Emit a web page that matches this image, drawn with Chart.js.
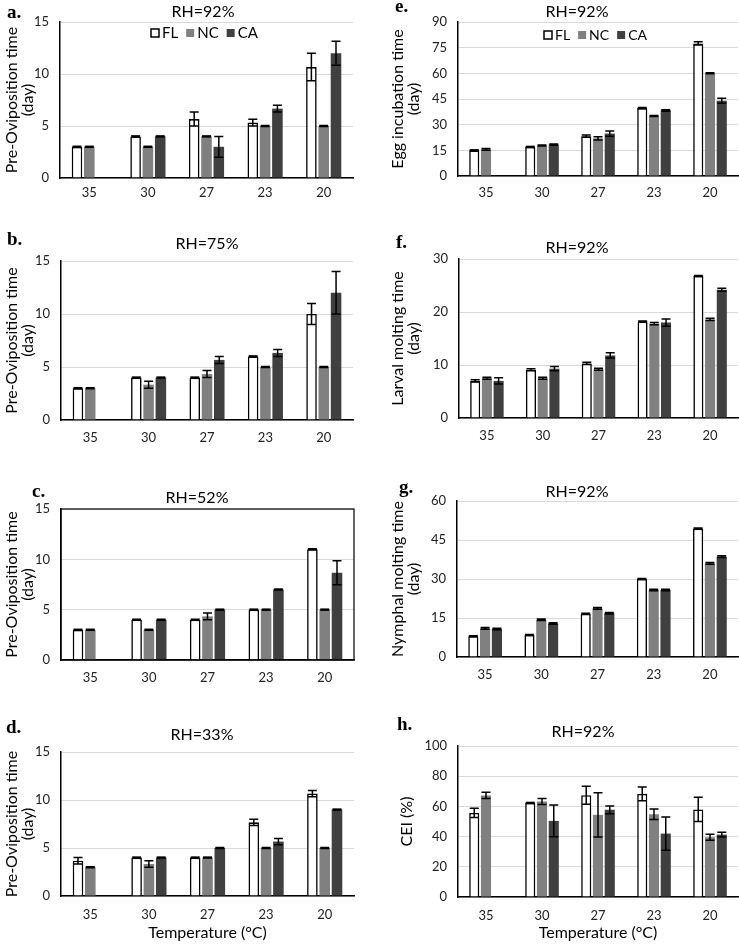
<!DOCTYPE html>
<html>
<head>
<meta charset="utf-8">
<script src="https://cdn.jsdelivr.net/npm/chart.js@4/dist/chart.umd.min.js"></script>
<style>
  body { margin: 0; background: #fff; }
  #wrap { position: relative; width: 739px; height: 944px; overflow: hidden; }
  #wrap canvas { position: absolute; }
</style>
</head>
<body>
<div id="wrap"></div>
<script>
// temperature categories (°C)
const temps = ['35', '30', '27', '23', '20'];
const seriesNames = ['FL', 'NC', 'CA'];

// a. pre-oviposition, RH=92%
const aFL = [3, 4, 5.67, 5.33, 10.67];
const aFLerr = [0, 0, 0.67, 0.33, 1.33];
const aNC = [3, 3, 4, 5, 5];
const aNCerr = [0, 0, 0, 0, 0];
const aCA = [null, 4, 3, 6.67, 12];
const aCAerr = [null, 0, 1, 0.33, 1.15];

// b. pre-oviposition, RH=75%
const bFL = [3, 4, 4, 6, 10];
const bFLerr = [0, 0, 0, 0, 1];
const bNC = [3, 3.33, 4.33, 5, 5];
const bNCerr = [0, 0.33, 0.33, 0, 0];
const bCA = [null, 4, 5.67, 6.33, 12];
const bCAerr = [null, 0, 0.33, 0.33, 2];

// c. pre-oviposition, RH=52%
const cFL = [3, 4, 4, 5, 11];
const cFLerr = [0, 0, 0, 0, 0];
const cNC = [3, 3, 4.33, 5, 5];
const cNCerr = [0, 0, 0.33, 0, 0];
const cCA = [null, 4, 5, 7, 8.67];
const cCAerr = [null, 0, 0, 0, 1.2];

// d. pre-oviposition, RH=33%
const dFL = [3.67, 4, 4, 7.67, 10.67];
const dFLerr = [0.33, 0, 0, 0.33, 0.33];
const dNC = [3, 3.33, 4, 5, 5];
const dNCerr = [0, 0.33, 0, 0, 0];
const dCA = [null, 4, 5, 5.67, 9];
const dCAerr = [null, 0, 0, 0.33, 0];

// e. egg incubation
const eFL = [15, 17, 23.3, 39.7, 77.5];
const eFLerr = [0, 0, 0.6, 0.3, 1];
const eNC = [15.5, 17.8, 22, 35, 60];
const eNCerr = [0.5, 0.3, 1, 0.3, 0.3];
const eCA = [null, 18.3, 24.8, 38.3, 44];
const eCAerr = [null, 0.4, 1.5, 0.4, 1.5];

// f. larval molting
const fFL = [7, 9.1, 10.3, 18.2, 26.8];
const fFLerr = [0.2, 0.2, 0.2, 0.1, 0.1];
const fNC = [7.5, 7.5, 9.2, 17.8, 18.6];
const fNCerr = [0.2, 0.2, 0.2, 0.2, 0.2];
const fCA = [7, 9.3, 11.8, 18, 24.2];
const fCAerr = [0.6, 0.4, 0.5, 0.7, 0.3];

// g. nymphal molting
const gFL = [8, 8.5, 16.6, 30, 49.4];
const gFLerr = [0.2, 0.2, 0.2, 0.2, 0.2];
const gNC = [11, 14.3, 18.7, 25.8, 36];
const gNCerr = [0.3, 0.3, 0.3, 0.3, 0.3];
const gCA = [10.8, 12.9, 16.8, 25.8, 38.6];
const gCAerr = [0.3, 0.3, 0.3, 0.3, 0.3];

// h. CEI
const hFL = [55.7, 62.3, 67.4, 68.3, 58];
const hFLerr = [3, 0, 6, 4.5, 8];
const hNC = [67.3, 63.2, 54.4, 54.8, 39.6];
const hNCerr = [2, 2, 14.7, 3.5, 2];
const hCA = [null, 50.4, 57.7, 42, 41.3];
const hCAerr = [null, 10.5, 2.5, 11, 1.5];

const FONT = 'Lato, "Open Sans", sans-serif';
const colors = { FL: '#ffffff', NC: '#808080', CA: '#404040' };

// draws error bars, panel letter, title, legend
const extras = {
  id: 'extras',
  afterDatasetsDraw(chart) {
    const ctx = chart.ctx;
    const y = chart.scales.y;
    ctx.save();
    ctx.strokeStyle = '#000';
    chart.data.datasets.forEach((ds, i) => {
      chart.getDatasetMeta(i).data.forEach((bar, j) => {
        const v = ds.data[j], e = ds.errors[j];
        if (v == null || e == null) return;
        const x = bar.x;
        ctx.beginPath();
        if (e === 0) {
          ctx.lineWidth = 2.5;
          const py = y.getPixelForValue(v);
          ctx.moveTo(x - 4.5, py); ctx.lineTo(x + 4.5, py);
        } else {
          ctx.lineWidth = 1.5;
          const t = y.getPixelForValue(v + e), b = y.getPixelForValue(v - e);
          ctx.moveTo(x, t); ctx.lineTo(x, b);
          ctx.moveTo(x - 4.5, t); ctx.lineTo(x + 4.5, t);
          ctx.moveTo(x - 4.5, b); ctx.lineTo(x + 4.5, b);
        }
        ctx.stroke();
      });
    });
    ctx.restore();
  },
  afterDraw(chart, args, o) {
    const ctx = chart.ctx;
    ctx.save();
    ctx.fillStyle = '#000';
    ctx.textBaseline = 'middle';
    ctx.font = 'bold 19px "Liberation Serif", serif';
    ctx.textAlign = 'left';
    ctx.fillText(o.letter, o.letterX, o.letterY);
    ctx.font = '16px ' + FONT;
    ctx.textAlign = 'center';
    ctx.fillText(o.title, o.titleX, o.titleY);
    if (o.box) {
      const a = chart.chartArea;
      ctx.strokeStyle = '#000';
      ctx.lineWidth = 1.2;
      ctx.strokeRect(a.left, a.top, a.right - a.left, a.bottom - a.top);
    }
    if (o.legend) {
      const L = o.legend;
      ctx.font = L.size + 'px ' + FONT;
      ctx.textAlign = 'left';
      let x = L.x;
      seriesNames.forEach((n) => {
        ctx.fillStyle = colors[n];
        ctx.fillRect(x, L.y - 4, 8, 8);
        if (n === 'FL') {
          ctx.strokeStyle = '#000';
          ctx.lineWidth = 1.5;
          ctx.strokeRect(x, L.y - 4, 8, 8);
        }
        ctx.fillStyle = '#000';
        ctx.fillText(n, x + 11, L.y);
        x += 11 + ctx.measureText(n).width + L.gap;
      });
    }
    ctx.restore();
  }
};

function makePanel(p) {
  const c = document.createElement('canvas');
  c.width = p.w; c.height = p.h;
  c.style.left = p.x + 'px'; c.style.top = p.y + 'px';
  document.getElementById('wrap').appendChild(c);

  const series = [
    { data: p.FL, errors: p.FLerr, backgroundColor: colors.FL, borderColor: '#000', borderWidth: 1.6 },
    { data: p.NC, errors: p.NCerr, backgroundColor: colors.NC, borderWidth: 0 },
    { data: p.CA, errors: p.CAerr, backgroundColor: colors.CA, borderWidth: 0 }
  ].map((d, i) => Object.assign(d, { label: seriesNames[i], barPercentage: 0.86, categoryPercentage: 0.63 }));

  new Chart(c, {
    type: 'bar',
    data: { labels: temps, datasets: series },
    options: {
      responsive: false,
      animation: false,
      layout: { padding: { top: p.area.t, right: p.w - p.area.r, left: 0, bottom: 0 } },
      plugins: {
        legend: { display: false },
        tooltip: { enabled: false },
        extras: { letter: p.letter, letterX: p.letterX, letterY: p.letterY, title: p.title, titleX: p.titleX, titleY: p.titleY, legend: p.legend, box: p.box }
      },
      scales: {
        x: {
          grid: { display: false, drawTicks: false },
          border: { display: true, color: '#000', width: 1.5 },
          ticks: { color: '#222', padding: p.xPad, font: { family: FONT, size: 13 } },
          title: { display: !!p.xTitle, text: p.xTitle, color: '#000', padding: { top: 0, bottom: 2 }, font: { family: FONT, size: 16 } },
          afterFit: (s) => { s.height = p.h - p.area.b; }
        },
        y: {
          min: 0, max: p.yMax,
          grid: { color: '#d9d9d9', lineWidth: 1, drawTicks: false },
          border: { display: true, color: '#000', width: 1.5 },
          ticks: { stepSize: p.yStep, color: '#222', padding: 11, font: { family: FONT, size: 13 } },
          title: { display: true, text: p.yTitle, color: '#000', padding: { top: p.yTitlePad, bottom: 0 }, font: { family: FONT, size: 16, lineHeight: 1.05 } },
          afterFit: (s) => { s.width = p.area.l; }
        }
      }
    },
    plugins: [extras]
  });
}

const preTitle = ['Pre-Oviposition time', '(day)'];

makePanel({ x: 0, y: 0, w: 370, h: 215, area: { l: 60, t: 22, r: 353, b: 178 },
  letter: 'a.', letterX: 7, letterY: 13, title: 'RH=92%', titleX: 203, titleY: 12,
  yMax: 15, yStep: 5, yTitle: preTitle, yTitlePad: 3, xPad: 7,
  legend: { x: 151, y: 33, size: 15, gap: 8 },
  FL: aFL, FLerr: aFLerr, NC: aNC, NCerr: aNCerr, CA: aCA, CAerr: aCAerr });

makePanel({ x: 370, y: 0, w: 369, h: 215, area: { l: 88, t: 22, r: 368, b: 176 },
  letter: 'e.', letterX: 25, letterY: 7, title: 'RH=92%', titleX: 207, titleY: 12,
  yMax: 90, yStep: 15, yTitle: ['Egg incubation time', '(day)'], yTitlePad: 19, xPad: 9,
  legend: { x: 174, y: 35, size: 14, gap: 8 },
  FL: eFL, FLerr: eFLerr, NC: eNC, NCerr: eNCerr, CA: eCA, CAerr: eCAerr });

makePanel({ x: 0, y: 215, w: 370, h: 240, area: { l: 61, t: 46, r: 353, b: 205 },
  letter: 'b.', letterX: 7, letterY: 25, title: 'RH=75%', titleX: 207, titleY: 29,
  yMax: 15, yStep: 5, yTitle: preTitle, yTitlePad: 3, xPad: 10,
  FL: bFL, FLerr: bFLerr, NC: bNC, NCerr: bNCerr, CA: bCA, CAerr: bCAerr });

makePanel({ x: 370, y: 215, w: 369, h: 240, area: { l: 89, t: 44, r: 368, b: 203 },
  letter: 'f.', letterX: 26, letterY: 28, title: 'RH=92%', titleX: 207, titleY: 33,
  yMax: 30, yStep: 10, yTitle: ['Larval molting time', '(day)'], yTitlePad: 19, xPad: 10,
  FL: fFL, FLerr: fFLerr, NC: fNC, NCerr: fNCerr, CA: fCA, CAerr: fCAerr });

makePanel({ x: 0, y: 455, w: 370, h: 235, area: { l: 61, t: 54, r: 354, b: 205 },
  letter: 'c.', letterX: 32, letterY: 37, title: 'RH=52%', titleX: 197, titleY: 43,
  yMax: 15, yStep: 5, yTitle: preTitle, yTitlePad: 3, xPad: 10, box: true,
  FL: cFL, FLerr: cFLerr, NC: cNC, NCerr: cNCerr, CA: cCA, CAerr: cCAerr });

makePanel({ x: 370, y: 455, w: 369, h: 235, area: { l: 87, t: 46, r: 368, b: 202 },
  letter: 'g.', letterX: 29, letterY: 33, title: 'RH=92%', titleX: 207, titleY: 37,
  yMax: 60, yStep: 15, yTitle: ['Nymphal molting time', '(day)'], yTitlePad: 19, xPad: 10,
  FL: gFL, FLerr: gFLerr, NC: gNC, NCerr: gNCerr, CA: gCA, CAerr: gCAerr });

makePanel({ x: 0, y: 690, w: 370, h: 254, area: { l: 61, t: 62, r: 354, b: 206 },
  letter: 'd.', letterX: 6, letterY: 38, title: 'RH=33%', titleX: 202, titleY: 45,
  yMax: 15, yStep: 5, yTitle: preTitle, yTitlePad: 3, xPad: 11, xTitle: 'Temperature (°C)',
  FL: dFL, FLerr: dFLerr, NC: dNC, NCerr: dNCerr, CA: dCA, CAerr: dCAerr });

makePanel({ x: 370, y: 690, w: 369, h: 254, area: { l: 88, t: 56, r: 368, b: 207 },
  letter: 'h.', letterX: 27, letterY: 35, title: 'RH=92%', titleX: 213, titleY: 42,
  yMax: 100, yStep: 20, yTitle: 'CEI (%)', yTitlePad: 28, xPad: 11, xTitle: 'Temperature (°C)',
  FL: hFL, FLerr: hFLerr, NC: hNC, NCerr: hNCerr, CA: hCA, CAerr: hCAerr });
</script>
</body>
</html>
